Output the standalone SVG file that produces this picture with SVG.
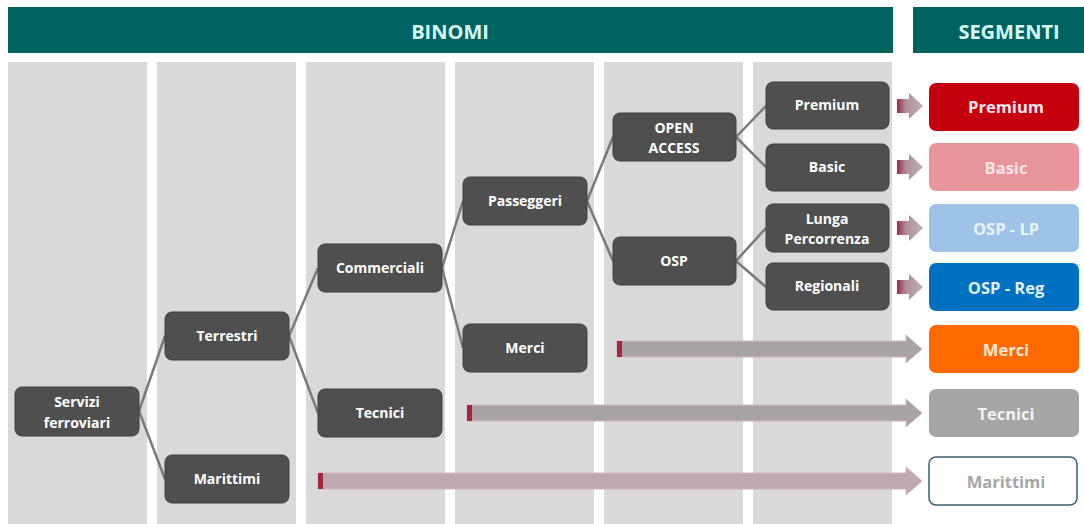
<svg xmlns="http://www.w3.org/2000/svg" width="1084" height="524" viewBox="0 0 1084 524">
<defs>
<linearGradient id="sg" x1="0" y1="0" x2="1" y2="0">
<stop offset="0" stop-color="#9B2A45"/>
<stop offset="0.35" stop-color="#B38E9A"/>
<stop offset="1" stop-color="#BDB0B5"/>
</linearGradient>
</defs>
<style>
.col{fill:#D9D9D9}
.hdr{fill:#00635F}
.htx{font-family:"Open Sans","Liberation Sans",sans-serif;font-weight:bold;font-size:20px;fill:#D8FAF8;text-anchor:middle;dominant-baseline:central}
.nd{fill:#4F4F4F;stroke:#3F3F3F;stroke-width:1}
.nt{font-family:"Open Sans","Liberation Sans",sans-serif;font-weight:bold;font-size:14px;fill:#FFFFFF;text-anchor:middle;dominant-baseline:central}
.st{font-family:"Open Sans","Liberation Sans",sans-serif;font-weight:bold;font-size:16.5px;text-anchor:middle;dominant-baseline:central}
.ln{stroke:#7A7A7A;stroke-width:2.5;fill:none}
.ar{fill:#A9A3A6;stroke:#D7B3BD;stroke-width:1}
.arp{fill:#BFA8AF;stroke:#D7B3BD;stroke-width:1}
.tick{fill:#A0283C}
.sa{fill:url(#sg)}
</style>
<rect x="0" y="0" width="1084" height="524" fill="#FFFFFF"/>
<g id="columns">
<rect class="col" x="8" y="62" width="139" height="462"/>
<rect class="col" x="157" y="62" width="139" height="462"/>
<rect class="col" x="306" y="62" width="139" height="462"/>
<rect class="col" x="455" y="62" width="139" height="462"/>
<rect class="col" x="604" y="62" width="139" height="462"/>
<rect class="col" x="753" y="62" width="139" height="462"/>
</g>
<g id="header-binomi">
<rect class="hdr" x="8" y="7" width="885" height="46"/>
<text class="htx" x="450" y="31">BINOMI</text>
</g>
<g id="header-segmenti">
<rect class="hdr" x="913" y="7" width="171" height="46"/>
<text class="htx" x="1009" y="31">SEGMENTI</text>
</g>
<g id="connectors">
<line class="ln" x1="139" y1="411" x2="165" y2="336"/>
<line class="ln" x1="139" y1="411" x2="165" y2="479"/>
<line class="ln" x1="289" y1="336" x2="318" y2="268"/>
<line class="ln" x1="289" y1="336" x2="318" y2="413"/>
<line class="ln" x1="442" y1="268" x2="463" y2="201"/>
<line class="ln" x1="442" y1="268" x2="463" y2="348"/>
<line class="ln" x1="587" y1="201" x2="613" y2="137"/>
<line class="ln" x1="587" y1="201" x2="613" y2="261"/>
<line class="ln" x1="736" y1="137" x2="766" y2="106"/>
<line class="ln" x1="736" y1="137" x2="766" y2="167"/>
<line class="ln" x1="736" y1="261" x2="766" y2="228"/>
<line class="ln" x1="736" y1="261" x2="766" y2="287"/>
<!-- small block arrows -->
<polygon class="sa" points="897,99 909,99 909,93 923,106 909,119 909,113 897,113"/>
<polygon class="sa" points="897,160 909,160 909,154 923,167 909,180 909,174 897,174"/>
<polygon class="sa" points="897,221 909,221 909,215 923,228 909,241 909,235 897,235"/>
<polygon class="sa" points="897,280 909,280 909,274 923,287 909,300 909,294 897,294"/>
<!-- long arrows -->
<polygon class="ar" points="617,341 906,341 906,335 922,349 906,363 906,357 617,357"/>
<rect class="tick" x="617" y="341" width="5" height="16"/>
<polygon class="ar" points="467,405 906,405 906,399 922,413 906,427 906,421 467,421"/>
<rect class="tick" x="467" y="405" width="5" height="16"/>
<polygon class="arp" points="318,473 906,473 906,467 922,481 906,495 906,489 318,489"/>
<rect class="tick" x="318" y="473" width="5" height="16"/>
</g>
<g id="n-servizi"><rect class="nd" x="15" y="387" width="124" height="49" rx="7"/><text class="nt" x="77" y="401">Servizi</text><text class="nt" x="77" y="422">ferroviari</text></g>
<g id="n-terrestri"><rect class="nd" x="165" y="312" width="124" height="48" rx="7"/><text class="nt" x="227" y="335">Terrestri</text></g>
<g id="n-marittimi"><rect class="nd" x="165" y="455" width="124" height="48" rx="7"/><text class="nt" x="227" y="478">Marittimi</text></g>
<g id="n-commerciali"><rect class="nd" x="318" y="244" width="124" height="48" rx="7"/><text class="nt" x="380" y="267">Commerciali</text></g>
<g id="n-tecnici"><rect class="nd" x="318" y="389" width="124" height="48" rx="7"/><text class="nt" x="380" y="412">Tecnici</text></g>
<g id="n-passeggeri"><rect class="nd" x="463" y="177" width="124" height="48" rx="7"/><text class="nt" x="525" y="200">Passeggeri</text></g>
<g id="n-merci"><rect class="nd" x="463" y="324" width="124" height="48" rx="7"/><text class="nt" x="525" y="347">Merci</text></g>
<g id="n-openaccess"><rect class="nd" x="613" y="113" width="123" height="48" rx="7"/><text class="nt" x="674" y="127">OPEN</text><text class="nt" x="674" y="147">ACCESS</text></g>
<g id="n-osp"><rect class="nd" x="613" y="237" width="123" height="48" rx="7"/><text class="nt" x="674" y="260">OSP</text></g>
<g id="n-premium"><rect class="nd" x="766" y="82" width="123" height="47" rx="7"/><text class="nt" x="827" y="104">Premium</text></g>
<g id="n-basic"><rect class="nd" x="766" y="144" width="123" height="47" rx="7"/><text class="nt" x="827" y="166">Basic</text></g>
<g id="n-lunga"><rect class="nd" x="766" y="204" width="123" height="48" rx="7"/><text class="nt" x="827" y="218">Lunga</text><text class="nt" x="827" y="238">Percorrenza</text></g>
<g id="n-regionali"><rect class="nd" x="766" y="263" width="123" height="47" rx="7"/><text class="nt" x="827" y="285">Regionali</text></g>
<g id="s-premium"><rect x="929" y="83" width="150" height="48" rx="7" fill="#C4000F"/><text class="st" x="1006" y="106" fill="#FFE8E8">Premium</text></g>
<g id="s-basic"><rect x="929" y="143" width="150" height="48" rx="7" fill="#E8969B"/><text class="st" x="1006" y="167" fill="#FCE6E6">Basic</text></g>
<g id="s-osplp"><rect x="929" y="204" width="150" height="48" rx="7" fill="#9DC3E6"/><text class="st" x="1006" y="228" fill="#EAF4FC">OSP - LP</text></g>
<g id="s-ospreg"><rect x="929" y="263" width="150" height="48" rx="7" fill="#0070C0"/><text class="st" x="1006" y="287" fill="#E4F2FF">OSP - Reg</text></g>
<g id="s-merci"><rect x="929" y="325" width="150" height="48" rx="7" fill="#FF6A00"/><text class="st" x="1006" y="349" fill="#FFEBD9">Merci</text></g>
<g id="s-tecnici"><rect x="929" y="389" width="150" height="48" rx="7" fill="#A6A6A6"/><text class="st" x="1006" y="413" fill="#F4F4F4">Tecnici</text></g>
<g id="s-marittimi"><rect x="929" y="457" width="148" height="48" rx="7" fill="#FFFFFF" stroke="#3E5F73" stroke-width="1.5"/><text class="st" x="1006" y="481" fill="#A6A6A6">Marittimi</text></g>
</svg>
